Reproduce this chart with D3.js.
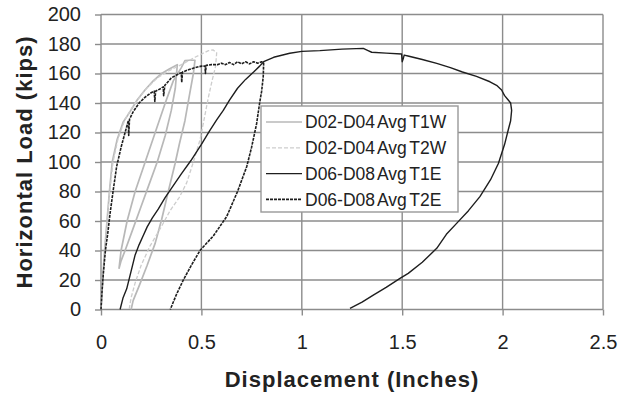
<!DOCTYPE html>
<html lang="en">
<head>
<meta charset="UTF-8">
<title>Horizontal load vs displacement</title>
<script src="https://cdnjs.cloudflare.com/ajax/libs/d3/7.8.5/d3.min.js"></script>
<style>
    body { margin: 0; background: #fff; }
    svg { display: block; font-family: Arial, 'Liberation Sans', sans-serif; }
    .grid line { stroke: #8c8c8c; stroke-width: 1.4; }
    .axis path { display: none; }
    .axis line { stroke: #8c8c8c; stroke-width: 1.4; }
    .axis text { fill: #222; font-size: 20px; }
    .title { fill: #222; font-size: 22px; font-weight: bold; letter-spacing: 1px; }
    .legend text { fill: #222; font-size: 17.5px; word-spacing: -2px; }
</style>
</head>
<body>
<svg></svg>
<script>
// tick labels
const xTicks = [0, 0.5, 1, 1.5, 2, 2.5]
const yTicks = [0, 20, 40, 60, 80, 100, 120, 140, 160, 180, 200]

const seriesNames = ['D02-D04 Avg T1W', 'D02-D04 Avg T2W', 'D06-D08 Avg T1E', 'D06-D08 Avg T2E']

// [displacement (in), load (kips)]
const t1w = [[0,0],[0.008,20],[0.018,40],[0.03,60],[0.042,80],[0.056,100],[0.08,115],[0.11,127],[0.144,134],
    [0.18,142],[0.219,148.8],[0.26,155],[0.302,160],[0.34,163],[0.38,166],[0.37,150],[0.35,135],[0.32,118],
    [0.28,100],[0.24,85],[0.2,70],[0.16,55],[0.12,40],[0.1,33],[0.09,28],[0.1,40],[0.13,60],[0.17,80],
    [0.22,100],[0.27,120],[0.32,140],[0.36,155],[0.4,164],[0.418,168.7],[0.44,169],[0.468,169],[0.46,160],
    [0.44,145],[0.418,128],[0.39,112],[0.369,99],[0.335,80],[0.302,61],[0.27,45],[0.23,30],[0.19,16],
    [0.16,6],[0.15,0]]

const t2w = [[0,0],[0.01,22],[0.02,42],[0.032,62],[0.045,82],[0.06,100],[0.085,116],[0.12,129],[0.16,138],
    [0.22,149],[0.28,157],[0.34,162],[0.4,166],[0.468,171],[0.535,175.5],[0.559,176],[0.576,174],[0.571,165],
    [0.553,155],[0.535,144],[0.515,130],[0.493,115],[0.46,100],[0.427,86],[0.39,76],[0.344,67],[0.3,56],
    [0.244,43],[0.2,30],[0.17,18],[0.15,8],[0.14,0]]

const t1e = [[0.095,0],[0.11,8],[0.128,14],[0.15,26],[0.17,37],[0.19,44],[0.21,50],[0.23,56],[0.255,62],
    [0.285,68],[0.32,76],[0.36,84],[0.4,92],[0.448,101],[0.5,112],[0.54,121],[0.576,128.5],[0.609,135],
    [0.64,142],[0.68,150],[0.72,156],[0.76,161],[0.79,165],[0.81,168],[0.86,171],[0.94,173.7],[1.0,175],
    [1.09,175.5],[1.2,176.5],[1.306,177],[1.33,175.5],[1.348,174.4],[1.42,173.8],[1.497,173.2],[1.5,168],
    [1.505,170],[1.51,172.5],[1.529,171.9],[1.6,169.5],[1.672,166.9],[1.74,164],[1.8,161],[1.87,158],
    [1.937,154.4],[1.97,152],[1.995,148.8],[2.01,145],[2.028,142],[2.04,140],[2.045,135],[2.04,128],
    [2.028,121.7],[2.01,112],[1.979,99],[1.94,88],[1.887,76.5],[1.83,67],[1.771,58.4],[1.72,51],
    [1.672,41.5],[1.6,32],[1.53,24.5],[1.489,21.1],[1.42,15],[1.356,9.8],[1.3,5],[1.24,0.8]]

const t2e = [[0,0],[0.005,12],[0.012,25],[0.022,40],[0.034,52],[0.045,65],[0.06,80],[0.078,97],[0.1,110],
    [0.12,120],[0.136,128],[0.138,118],[0.142,129],[0.16,134],[0.19,140],[0.22,144],[0.25,147],[0.265,148],
    [0.268,141],[0.272,148],[0.3,150],[0.31,151],[0.312,145],[0.318,152],[0.35,157],[0.39,160],[0.4,160.5],
    [0.402,154],[0.406,161],[0.435,162.5],[0.47,164],[0.5,165],[0.518,165],[0.52,160],[0.524,165.5],
    [0.55,166],[0.58,166],[0.6,167],[0.62,166],[0.64,167.5],[0.66,166],[0.68,168],[0.7,166.5],[0.72,168],
    [0.74,166.5],[0.76,168],[0.78,167],[0.8,168],[0.81,167],[0.808,158],[0.8,148],[0.79,140],[0.775,126],
    [0.75,110],[0.726,97],[0.68,80],[0.626,63],[0.56,50],[0.493,40],[0.45,30],[0.41,20],[0.375,10],[0.345,0]]

const W = 629, H = 402
const margin = { top: 14.5, right: 26, bot: 92.5, left: 101 }

const svg = d3.select('svg').attr('width', W).attr('height', H)

const xScale = d3.scaleLinear().domain([0, 2.5]).range([margin.left, W - margin.right])
const yScale = d3.scaleLinear().domain([0, 200]).range([H - margin.bot, margin.top])

// gridlines + border
svg.append('g').attr('class', 'grid')
    .selectAll('line.v').data(xTicks).enter().append('line')
    .attr('x1', d => xScale(d)).attr('x2', d => xScale(d))
    .attr('y1', yScale(0)).attr('y2', yScale(200))
svg.select('g.grid')
    .selectAll('line.h').data(yTicks).enter().append('line')
    .attr('x1', xScale(0)).attr('x2', xScale(2.5))
    .attr('y1', d => yScale(d)).attr('y2', d => yScale(d))

// axes
svg.append('g').attr('class', 'axis')
    .attr('transform', 'translate(0,' + yScale(0) + ')')
    .call(d3.axisBottom(xScale).tickValues(xTicks).tickFormat(d3.format('~g')).tickSize(6).tickPadding(19))

svg.append('g').attr('class', 'axis')
    .attr('transform', 'translate(' + xScale(0) + ',0)')
    .call(d3.axisLeft(yScale).tickValues(yTicks).tickSize(6).tickPadding(14))

// curves
const line = d3.line().x(d => xScale(d[0])).y(d => yScale(d[1]))
const styles = [
    { data: t1w, color: '#b8b8b8', width: 1.7, dash: null },
    { data: t2w, color: '#cdcdcd', width: 1.3, dash: '4,2' },
    { data: t1e, color: '#1e1e1e', width: 1.4, dash: null },
    { data: t2e, color: '#1e1e1e', width: 1.6, dash: '3,1' }
]
styles.forEach(s => {
    svg.append('path')
        .datum(s.data)
        .attr('d', line)
        .attr('fill', 'none')
        .attr('stroke', s.color)
        .attr('stroke-width', s.width)
        .attr('stroke-dasharray', s.dash)
        .attr('stroke-linejoin', 'round')
})

// legend
const lg = svg.append('g').attr('class', 'legend').attr('transform', 'translate(261,106)')
lg.append('rect').attr('width', 197).attr('height', 106)
    .attr('fill', '#fff').attr('stroke', '#999').attr('stroke-width', 1.4)
seriesNames.forEach((name, i) => {
    const y = 16 + i * 25.8
    lg.append('line')
        .attr('x1', 5).attr('x2', 41).attr('y1', y).attr('y2', y)
        .attr('stroke', styles[i].color)
        .attr('stroke-width', styles[i].width)
        .attr('stroke-dasharray', styles[i].dash)
    lg.append('text').attr('x', 44).attr('y', y).attr('dy', '0.35em').text(name)
})

// axis titles
svg.append('text').attr('class', 'title')
    .attr('x', (xScale(0) + xScale(2.5)) / 2).attr('y', 387)
    .attr('text-anchor', 'middle')
    .text('Displacement (Inches)')

svg.append('text').attr('class', 'title')
    .attr('transform', 'translate(32,' + (yScale(0) + yScale(200)) / 2 + ') rotate(-90)')
    .attr('text-anchor', 'middle')
    .text('Horizontal Load (kips)')
</script>
</body>
</html>
